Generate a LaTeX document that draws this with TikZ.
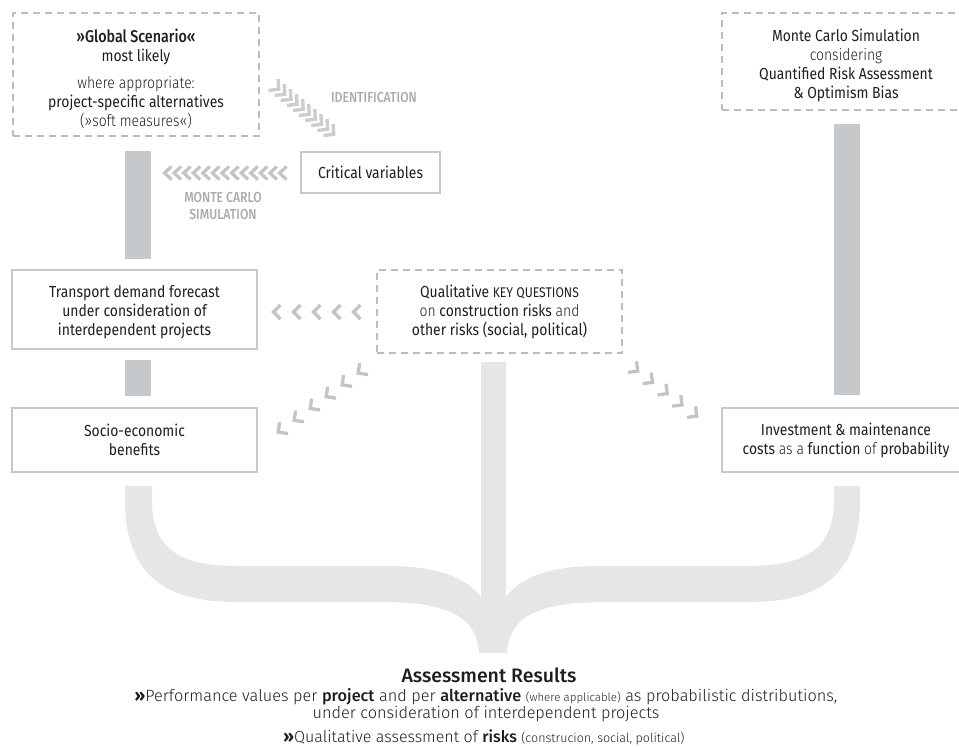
\documentclass[tikz,border=0pt]{standalone}
\usepackage{fontspec}
\setmainfont{Fira Sans}[FakeStretch=0.87]
\newfontfamily\lite{Fira Sans Light}[FakeStretch=0.87]
\newfontfamily\med{Fira Sans Medium}[FakeStretch=0.84]
\newfontfamily\blite{Fira Sans Light}
\newfontfamily\bmed{Fira Sans Medium}
\newfontfamily\bbold{Fira Sans Bold}
\usetikzlibrary{calc}
\definecolor{txt}{HTML}{1E1E1E}
\definecolor{boxgray}{HTML}{C8C8C8}
\definecolor{dashgray}{HTML}{BDBDBD}
\definecolor{bargray}{HTML}{C6C9CB}
\definecolor{lightbar}{HTML}{E4E6E7}
\definecolor{chevgray}{HTML}{C4C4C4}
\definecolor{labgray}{HTML}{ABABAB}
\tikzset{
  box/.style={draw=boxgray, line width=1.2pt, inner sep=0pt, align=center, text=txt,
              font=\fontsize{16}{19}\selectfont},
  dbox/.style={box, draw=dashgray, dash pattern=on 7pt off 5pt},
  boxtext/.style={align=center, text=txt, inner sep=0pt, font=\fontsize{16}{19}\selectfont},
  darkbar/.style={draw=bargray, line width=26pt},
  lab/.style={text=labgray, align=center, font=\med\fontsize{14.5}{17}\selectfont},
  chevS/.pic={\draw[line width=3.2pt, line join=miter, line cap=butt] (-3.5,-6.5) -- (3.5,0) -- (-3.5,6.5);},
  chevI/.pic={\draw[line width=3.4pt, line join=miter, line cap=butt] (-3.5,-7.5) -- (3.5,0) -- (-3.5,7.5);},
  chevL/.pic={\draw[line width=3.3pt, line join=miter, line cap=butt] (-3.5,-7) -- (3.5,0) -- (-3.5,7);},
}
\begin{document}
\begin{tikzpicture}[x=1pt,y=-1pt]
\useasboundingbox (0,0) rectangle (959,747);
% boxes
\node[dbox, minimum width=246pt, minimum height=123pt] (gs) at (136,74.5) {};
\node[boxtext] (gst) at (136,79)
  {{\med\fontsize{17}{19}\selectfont »Global Scenario«}\\ most likely\\[8pt] {\lite where appropriate:}\\ project-specific alternatives\\ {\lite (»soft measures«)}};
\node[dbox, minimum width=248pt, minimum height=97pt] (mc) at (846,61.5) {};
\node[boxtext] (mct) at (846,65)
  {Monte Carlo Simulation\\ {\lite considering}\\ Quantified Risk Assessment\\ \& Optimism Bias};
\node[box, minimum width=139pt, minimum height=41pt] (cv) at (370.5,172.5) {Critical variables};
\node[box, minimum width=245pt, minimum height=79pt] (td) at (134.5,309.5) {};
\node[boxtext] (tdt) at (134.5,312)
  {Transport demand forecast\\ under consideration of\\ interdependent projects};
\node[box, minimum width=245pt, minimum height=64pt] (se) at (134.5,440)
  {Socio-economic\\ benefits};
\node[dbox, minimum width=245pt, minimum height=83pt] (kq) at (499.5,311.5)
  {Qualitative {\fontsize{14}{19}\selectfont KEY QUESTIONS}\\ {\lite on} construction risks {\lite and}\\ other risks (social, political)};
\node[box, minimum width=248pt, minimum height=64pt] (inv) at (846,440)
  {Investment \& maintenance\\ costs {\lite as a} function {\lite of} probability};
% bars
\coordinate (bx) at (138,0);
\coordinate (rx) at (847,0);
\draw[darkbar, shorten <=14pt, shorten >=10pt] (gs.south -| bx) -- (td.north -| bx);
\draw[darkbar, shorten <=10pt, shorten >=11pt] (td.south -| bx) -- (se.north -| bx);
\draw[darkbar, shorten <=13pt, shorten >=12pt] (mc.south -| rx) -- (inv.north -| rx);
% brace with central stem
\fill[lightbar] (125,486) -- (125,500) .. controls (125,575) and (165,602) .. (236,602)
  -- (381,602) .. controls (445,602) and (477,615) .. (479,653) -- (507,653)
  .. controls (509,615) and (541,602) .. (605,602) -- (749,602)
  .. controls (820,602) and (860,575) .. (860,500) -- (860,486) -- (834,486) -- (834,500)
  .. controls (834,545) and (810,566) .. (749,566) -- (598,566)
  .. controls (548,566) and (520,578) .. (506,597) -- (506,362) -- (481,362) -- (481,597)
  .. controls (467,578) and (438,566) .. (388,566) -- (236,566)
  .. controls (175,566) and (152,545) .. (152,500) -- (152,486) -- cycle;
% chevron connectors
\coordinate (i1) at (276,87); \coordinate (i2) at (331,132);
\foreach \k in {0,...,9} \pic[rotate=-40, color=chevgray!85] at ($(i1)!\k/9!(i2)$) {chevI};
\coordinate (m1) at (168,173); \coordinate (m2) at (283,173);
\foreach \k in {0,...,12} \pic[rotate=180, color=chevgray] at ($(m1)!\k/12!(m2)$) {chevS};
\coordinate (t1) at (277,312); \coordinate (t2) at (357,312);
\foreach \k in {0,...,4} \pic[rotate=180, color=chevgray] at ($(t1)!\k/4!(t2)$) {chevL};
\coordinate (s1) at (361,371); \coordinate (s2) at (281,430);
\foreach \k in {0,...,5} \pic[rotate=-143.5, color=chevgray] at ($(s1)!\k/5!(s2)$) {chevL};
\coordinate (r1) at (635,369); \coordinate (r2) at (694,414);
\foreach \k in {0,...,4} \pic[rotate=-37.5, color=chevgray] at ($(r1)!\k/4!(r2)$) {chevL};
% labels
\node[lab] (idl) at (374,97) {IDENTIFICATION};
\node[lab] (mcl) at (223,205.5) {MONTE CARLO\\ SIMULATION};
% results
\node[text=txt, font=\bmed\fontsize{19.5}{22}\selectfont] (ar) at (489,675) {Assessment Results};
\node[text=txt, align=center, font=\blite\fontsize{16.3}{17}\selectfont] (r1t) at (486,705)
  {{\bbold\fontsize{17}{17}\selectfont »}Performance values per {\bmed project} and per {\bmed alternative} {\fontsize{11.5}{17}\selectfont (where applicable)} as probabilistic distributions,\\ under consideration of interdependent projects};
\node[text=txt, font=\blite\fontsize{16}{17}\selectfont] (r2t) at (484,737)
  {{\bbold\fontsize{17}{17}\selectfont »}Qualitative assessment of {\bmed risks} {\fontsize{12.5}{17}\selectfont (construcion, social, political)}};
\end{tikzpicture}
\end{document}
